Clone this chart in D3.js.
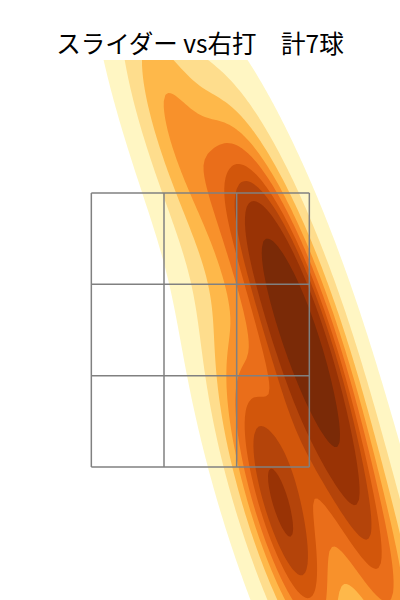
<!DOCTYPE html>
<html>
<head>
<meta charset="utf-8">
<script src="https://cdn.jsdelivr.net/npm/d3@7"></script>
<style>
  body { margin: 0; background: #fff; }
</style>
</head>
<body>
<script>
// pitch locations (feet, catcher's view)
const pitchX = [-0.21, 0.465, 0.77, 0.885, 0.525, 0.67, 1.365];
const pitchZ = [4.02, 3.17, 2.59, 2.04, 1.48, 0.885, 0.685];
const zoneX = [-0.815, 0.82];
const zoneZ = [1.485, 3.515];
const titleText = "スライダー vs右打\u3000計7球";
const bandColors = ["#fff6c3", "#fedd8d", "#feb84a", "#f8912b", "#ea6e1a",
  "#d2560b", "#b4440a", "#993305", "#7a2a07"];

const width = 400, height = 600;
const plot = {left: 0, right: 400, top: 60, bottom: 600};

const xScale = d3.scaleLinear().domain([-1.5, 1.5]).range([plot.left, plot.right]);
const yScale = d3.scaleLinear().domain([0.5, 4.5]).range([plot.bottom, plot.top]);

const svg = d3.select("body").append("svg")
  .attr("width", width)
  .attr("height", height);

svg.append("clipPath")
  .attr("id", "plot-area")
  .append("rect")
  .attr("x", plot.left)
  .attr("y", plot.top)
  .attr("width", plot.right - plot.left)
  .attr("height", plot.bottom - plot.top);

// gaussian kde, scott bandwidth, full covariance (like scipy)
const n = pitchX.length;
const mx = d3.mean(pitchX), mz = d3.mean(pitchZ);
let sxx = 0, szz = 0, sxz = 0;
for (let i = 0; i < n; i++) {
  sxx += (pitchX[i] - mx) ** 2;
  szz += (pitchZ[i] - mz) ** 2;
  sxz += (pitchX[i] - mx) * (pitchZ[i] - mz);
}
const f2 = Math.pow(n, -1 / 3);
const cxx = sxx / (n - 1) * f2, czz = szz / (n - 1) * f2, cxz = sxz / (n - 1) * f2;
const det = cxx * czz - cxz * cxz;
const ixx = czz / det, izz = cxx / det, ixz = -cxz / det;
const norm = 1 / (2 * Math.PI * Math.sqrt(det) * n);

const gridSize = 200, cut = 3;
const bwx = Math.sqrt(cxx), bwz = Math.sqrt(czz);
const gx0 = d3.min(pitchX) - cut * bwx, gx1 = d3.max(pitchX) + cut * bwx;
const gz0 = d3.min(pitchZ) - cut * bwz, gz1 = d3.max(pitchZ) + cut * bwz;
const dx = (gx1 - gx0) / (gridSize - 1), dz = (gz1 - gz0) / (gridSize - 1);

const values = new Float64Array(gridSize * gridSize);
for (let j = 0; j < gridSize; j++) {
  const z = gz0 + j * dz;
  for (let i = 0; i < gridSize; i++) {
    const x = gx0 + i * dx;
    let s = 0;
    for (let k = 0; k < n; k++) {
      const ex = x - pitchX[k], ez = z - pitchZ[k];
      s += Math.exp(-0.5 * (ixx * ex * ex + 2 * ixz * ex * ez + izz * ez * ez));
    }
    values[i + j * gridSize] = s * norm;
  }
}

// iso-proportion levels (thresh 0.05, 10 levels)
const isoprop = d3.range(10).map(i => 0.05 + i * (0.95 / 9));
const sorted = Array.from(values).sort((a, b) => b - a);
const total = d3.sum(sorted);
const cum = [];
let acc = 0;
for (const v of sorted) { acc += v; cum.push(acc / total); }
const levels = isoprop.map(p => {
  const idx = d3.bisectLeft(cum, 1 - p);
  return sorted[Math.min(idx, sorted.length - 1)];
});

const contours = d3.contours()
  .size([gridSize, gridSize])
  .thresholds(levels.slice(0, 9))(values);

const path = d3.geoPath(d3.geoTransform({
  point: function(x, y) {
    this.stream.point(xScale(gx0 + (x - 0.5) * dx), yScale(gz0 + (y - 0.5) * dz));
  }
}));

svg.append("g")
  .attr("clip-path", "url(#plot-area)")
  .selectAll("path")
  .data(contours)
  .enter()
  .append("path")
  .attr("d", path)
  .attr("fill", (d, i) => bandColors[i]);

// strike zone 3x3
const zx = d3.range(4).map(i => zoneX[0] + (zoneX[1] - zoneX[0]) * i / 3);
const zz = d3.range(4).map(i => zoneZ[0] + (zoneZ[1] - zoneZ[0]) * i / 3);
const zone = svg.append("g")
  .attr("stroke", "#808080")
  .attr("stroke-width", 1.5)
  .attr("fill", "none");
zone.selectAll(".vline")
  .data(zx)
  .enter()
  .append("line")
  .attr("class", "vline")
  .attr("x1", d => xScale(d))
  .attr("x2", d => xScale(d))
  .attr("y1", yScale(zoneZ[1]))
  .attr("y2", yScale(zoneZ[0]));
zone.selectAll(".hline")
  .data(zz)
  .enter()
  .append("line")
  .attr("class", "hline")
  .attr("x1", xScale(zoneX[0]))
  .attr("x2", xScale(zoneX[1]))
  .attr("y1", d => yScale(d))
  .attr("y2", d => yScale(d));

svg.append("text")
  .attr("x", width / 2)
  .attr("y", 53)
  .attr("text-anchor", "middle")
  .attr("font-family", "'Noto Sans CJK JP', sans-serif")
  .attr("font-size", 24.5)
  .attr("fill", "#000")
  .text(titleText);
</script>
</body>
</html>
